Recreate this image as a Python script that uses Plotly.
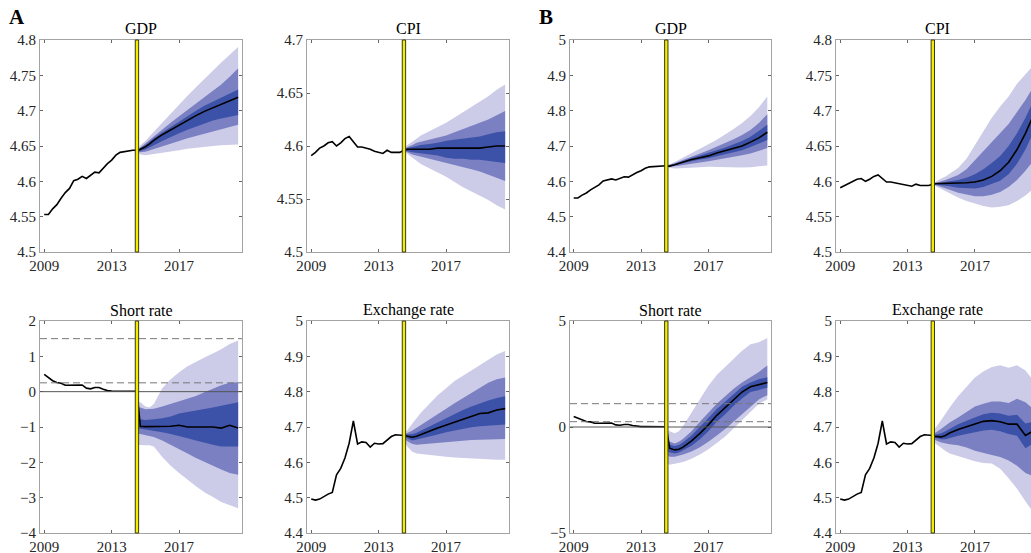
import plotly.graph_objects as go

# ---------------- data ----------------
hist_t = [2009.0, 2009.25, 2009.5, 2009.75, 2010.0, 2010.25, 2010.5, 2010.75, 2011.0, 2011.25,
          2011.5, 2011.75, 2012.0, 2012.25, 2012.5, 2012.75, 2013.0, 2013.25, 2013.5, 2013.75,
          2014.0, 2014.25, 2014.5]
fc_t = [2014.5, 2014.7, 2015.0, 2015.25, 2015.5, 2016.0, 2016.5, 2017.0, 2017.5, 2018.0,
        2018.5, 2019.0, 2019.5, 2020.0, 2020.5]

gdp_hist = [4.553, 4.553, 4.561, 4.567, 4.576, 4.584, 4.590, 4.601, 4.603, 4.607, 4.604, 4.608,
            4.613, 4.612, 4.619, 4.625, 4.630, 4.637, 4.641, 4.642, 4.644, 4.644, 4.644]
cpi_hist = [4.591, 4.594, 4.598, 4.600, 4.603, 4.604, 4.600, 4.603, 4.607, 4.609, 4.604, 4.599,
            4.599, 4.598, 4.597, 4.595, 4.594, 4.593, 4.596, 4.594, 4.594, 4.594, 4.596]
rate_hist = [0.49, 0.41, 0.31, 0.26, 0.24, 0.18, 0.18, 0.19, 0.19, 0.19, 0.10, 0.08, 0.12, 0.12,
             0.07, 0.03, 0.02, 0.02, 0.02, 0.02, 0.02, 0.01, 0.01]
fx_hist = [4.496, 4.493, 4.496, 4.504, 4.510, 4.515, 4.565, 4.583, 4.612, 4.654, 4.717, 4.652,
           4.658, 4.656, 4.643, 4.654, 4.652, 4.653, 4.662, 4.673, 4.678, 4.678, 4.676]

# Panel A forecasts (median, inner/middle/outer bands)
a_gdp_med = [4.643, 4.645, 4.649, 4.653, 4.658, 4.666, 4.673, 4.680, 4.687, 4.693, 4.699, 4.704, 4.709, 4.714, 4.719]
a_gdp_lo1 = [4.642, 4.643, 4.645, 4.648, 4.651, 4.657, 4.663, 4.668, 4.673, 4.678, 4.682, 4.686, 4.689, 4.692, 4.694]
a_gdp_hi1 = [4.643, 4.647, 4.651, 4.656, 4.661, 4.669, 4.677, 4.685, 4.693, 4.700, 4.707, 4.713, 4.719, 4.725, 4.730]
a_gdp_lo2 = [4.642, 4.641, 4.642, 4.643, 4.645, 4.649, 4.653, 4.657, 4.661, 4.665, 4.668, 4.671, 4.674, 4.677, 4.680]
a_gdp_hi2 = [4.644, 4.648, 4.653, 4.658, 4.663, 4.673, 4.683, 4.692, 4.701, 4.710, 4.719, 4.728, 4.737, 4.748, 4.760]
a_gdp_lo3 = [4.641, 4.638, 4.637, 4.637, 4.638, 4.640, 4.642, 4.644, 4.646, 4.648, 4.649, 4.650, 4.651, 4.652, 4.652]
a_gdp_hi3 = [4.644, 4.651, 4.657, 4.664, 4.670, 4.683, 4.696, 4.709, 4.721, 4.733, 4.745, 4.757, 4.768, 4.779, 4.790]

a_cpi_med = [4.596, 4.597, 4.597, 4.597, 4.597, 4.597, 4.598, 4.598, 4.598, 4.598, 4.598, 4.598, 4.599, 4.600, 4.600]
a_cpi_lo1 = [4.596, 4.595, 4.594, 4.593, 4.593, 4.592, 4.591, 4.589, 4.588, 4.588, 4.587, 4.587, 4.586, 4.585, 4.584]
a_cpi_hi1 = [4.596, 4.598, 4.599, 4.600, 4.601, 4.602, 4.603, 4.605, 4.606, 4.607, 4.608, 4.609, 4.611, 4.613, 4.614]
a_cpi_lo2 = [4.596, 4.594, 4.592, 4.591, 4.590, 4.588, 4.586, 4.584, 4.582, 4.580, 4.578, 4.576, 4.573, 4.570, 4.567]
a_cpi_hi2 = [4.596, 4.599, 4.601, 4.603, 4.604, 4.606, 4.608, 4.610, 4.613, 4.616, 4.619, 4.622, 4.625, 4.629, 4.633]
a_cpi_lo3 = [4.595, 4.592, 4.589, 4.586, 4.583, 4.579, 4.575, 4.571, 4.566, 4.561, 4.557, 4.553, 4.549, 4.544, 4.540]
a_cpi_hi3 = [4.597, 4.601, 4.604, 4.607, 4.610, 4.614, 4.618, 4.622, 4.627, 4.632, 4.637, 4.642, 4.647, 4.653, 4.658]

a_rate_med = [0.01, -0.98, -0.99, -0.99, -0.99, -0.98, -0.98, -0.95, -1.0, -1.0, -0.99, -1.0, -1.03, -0.95, -1.03]
a_rate_lo1 = [-1.05, -1.05, -1.07, -1.08, -1.1, -1.15, -1.2, -1.25, -1.32, -1.38, -1.45, -1.5, -1.55, -1.55, -1.55]
a_rate_hi1 = [-0.75, -0.78, -0.8, -0.8, -0.78, -0.75, -0.7, -0.62, -0.58, -0.55, -0.5, -0.45, -0.4, -0.35, -0.3]
a_rate_lo2 = [-1.2, -1.2, -1.23, -1.25, -1.28, -1.38, -1.5, -1.62, -1.75, -1.88, -2.0, -2.1, -2.2, -2.3, -2.35]
a_rate_hi2 = [-0.45, -0.45, -0.5, -0.5, -0.48, -0.42, -0.35, -0.28, -0.2, -0.12, -0.02, 0.08, 0.18, 0.25, 0.27]
a_rate_lo3 = [-1.5, -1.5, -1.52, -1.52, -1.55, -1.85, -2.1, -2.3, -2.5, -2.68, -2.85, -2.98, -3.12, -3.22, -3.3]
a_rate_hi3 = [-0.28, -0.3, -0.42, -0.45, -0.35, 0.1, 0.35, 0.55, 0.72, 0.85, 0.97, 1.08, 1.2, 1.35, 1.45]
a_rate_bounds = [1.5, 0.25]

a_fx_med = [4.676, 4.674, 4.671, 4.674, 4.678, 4.688, 4.697, 4.705, 4.713, 4.722, 4.730, 4.738, 4.740, 4.748, 4.752]
a_fx_lo1 = [4.672, 4.668, 4.662, 4.664, 4.667, 4.673, 4.679, 4.685, 4.690, 4.695, 4.699, 4.702, 4.704, 4.706, 4.707]
a_fx_hi1 = [4.678, 4.679, 4.680, 4.684, 4.690, 4.702, 4.714, 4.726, 4.737, 4.748, 4.758, 4.767, 4.775, 4.782, 4.787]
a_fx_lo2 = [4.668, 4.660, 4.652, 4.650, 4.651, 4.652, 4.655, 4.657, 4.659, 4.661, 4.663, 4.664, 4.665, 4.666, 4.666]
a_fx_hi2 = [4.680, 4.683, 4.690, 4.698, 4.705, 4.720, 4.737, 4.752, 4.767, 4.782, 4.797, 4.810, 4.825, 4.835, 4.840]
a_fx_lo3 = [4.660, 4.645, 4.630, 4.625, 4.622, 4.620, 4.618, 4.616, 4.614, 4.612, 4.610, 4.610, 4.608, 4.607, 4.607]
a_fx_hi3 = [4.685, 4.690, 4.710, 4.725, 4.740, 4.765, 4.790, 4.810, 4.830, 4.845, 4.860, 4.875, 4.890, 4.905, 4.915]

# Panel B forecasts
b_gdp_med = [4.643, 4.643, 4.647, 4.651, 4.655, 4.662, 4.667, 4.672, 4.680, 4.687, 4.693, 4.700, 4.711, 4.723, 4.739]
b_gdp_lo1 = [4.642, 4.642, 4.645, 4.648, 4.651, 4.657, 4.662, 4.665, 4.671, 4.677, 4.682, 4.688, 4.697, 4.706, 4.717]
b_gdp_hi1 = [4.643, 4.645, 4.649, 4.653, 4.658, 4.666, 4.673, 4.680, 4.688, 4.696, 4.705, 4.714, 4.726, 4.742, 4.760]
b_gdp_lo2 = [4.642, 4.641, 4.642, 4.644, 4.646, 4.650, 4.654, 4.657, 4.661, 4.665, 4.669, 4.674, 4.679, 4.686, 4.694]
b_gdp_hi2 = [4.644, 4.646, 4.651, 4.656, 4.661, 4.670, 4.679, 4.688, 4.698, 4.708, 4.719, 4.731, 4.745, 4.765, 4.790]
b_gdp_lo3 = [4.641, 4.638, 4.636, 4.636, 4.637, 4.639, 4.640, 4.641, 4.641, 4.641, 4.640, 4.639, 4.640, 4.642, 4.645]
b_gdp_hi3 = [4.645, 4.648, 4.655, 4.661, 4.667, 4.679, 4.692, 4.705, 4.718, 4.732, 4.748, 4.765, 4.785, 4.810, 4.840]

b_cpi_med = [4.596, 4.597, 4.597, 4.597, 4.597, 4.597, 4.598, 4.599, 4.602, 4.607, 4.615, 4.627, 4.645, 4.668, 4.695]
b_cpi_lo1 = [4.596, 4.596, 4.595, 4.594, 4.593, 4.591, 4.590, 4.590, 4.592, 4.596, 4.601, 4.610, 4.625, 4.645, 4.670]
b_cpi_hi1 = [4.596, 4.597, 4.598, 4.599, 4.600, 4.602, 4.605, 4.610, 4.617, 4.626, 4.636, 4.650, 4.668, 4.690, 4.715]
b_cpi_lo2 = [4.596, 4.595, 4.592, 4.590, 4.588, 4.584, 4.581, 4.579, 4.579, 4.581, 4.585, 4.592, 4.602, 4.615, 4.630]
b_cpi_hi2 = [4.596, 4.598, 4.600, 4.602, 4.604, 4.609, 4.617, 4.630, 4.643, 4.656, 4.668, 4.681, 4.698, 4.715, 4.735]
b_cpi_lo3 = [4.595, 4.593, 4.589, 4.586, 4.583, 4.577, 4.572, 4.568, 4.565, 4.563, 4.564, 4.566, 4.572, 4.580, 4.590]
b_cpi_hi3 = [4.597, 4.600, 4.604, 4.607, 4.611, 4.619, 4.632, 4.652, 4.672, 4.690, 4.706, 4.720, 4.738, 4.752, 4.765]

b_rate_med = [0.0, -1.0, -1.08, -1.05, -0.95, -0.65, -0.3, 0.1, 0.55, 0.92, 1.3, 1.65, 1.9, 2.0, 2.1]
b_rate_lo1 = [-1.15, -1.2, -1.25, -1.2, -1.12, -0.88, -0.58, -0.2, 0.25, 0.6, 1.0, 1.35, 1.65, 1.75, 1.85]
b_rate_hi1 = [-0.8, -0.85, -0.9, -0.85, -0.72, -0.4, 0.0, 0.42, 0.85, 1.2, 1.55, 1.9, 2.1, 2.25, 2.35]
b_rate_lo2 = [-1.3, -1.4, -1.4, -1.35, -1.3, -1.15, -0.95, -0.7, -0.4, -0.1, 0.25, 0.6, 0.95, 1.3, 1.5]
b_rate_hi2 = [-0.6, -0.7, -0.78, -0.7, -0.55, -0.2, 0.25, 0.7, 1.1, 1.45, 1.8, 2.1, 2.35, 2.6, 2.9]
b_rate_lo3 = [-1.7, -1.78, -1.75, -1.7, -1.65, -1.5, -1.3, -1.05, -0.75, -0.45, -0.1, 0.3, 0.7, 1.1, 1.3]
b_rate_hi3 = [-0.1, -0.2, -0.3, -0.2, 0.05, 0.7, 1.35, 1.95, 2.45, 2.85, 3.25, 3.6, 3.9, 4.0, 4.2]
b_rate_bounds = [1.1, 0.25]

b_fx_med = [4.674, 4.673, 4.672, 4.676, 4.683, 4.693, 4.701, 4.710, 4.716, 4.718, 4.715, 4.708, 4.708, 4.676, 4.690]
b_fx_lo1 = [4.671, 4.668, 4.665, 4.665, 4.667, 4.675, 4.680, 4.686, 4.690, 4.692, 4.688, 4.680, 4.675, 4.640, 4.655]
b_fx_hi1 = [4.677, 4.679, 4.682, 4.688, 4.695, 4.708, 4.718, 4.728, 4.736, 4.740, 4.738, 4.732, 4.735, 4.710, 4.715]
b_fx_lo2 = [4.668, 4.662, 4.656, 4.653, 4.651, 4.648, 4.642, 4.633, 4.626, 4.621, 4.615, 4.605, 4.590, 4.570, 4.560]
b_fx_hi2 = [4.680, 4.685, 4.695, 4.705, 4.713, 4.727, 4.742, 4.758, 4.766, 4.772, 4.772, 4.768, 4.780, 4.770, 4.750]
b_fx_lo3 = [4.660, 4.652, 4.640, 4.632, 4.625, 4.617, 4.610, 4.603, 4.598, 4.597, 4.582, 4.555, 4.525, 4.490, 4.455]
b_fx_hi3 = [4.690, 4.700, 4.720, 4.738, 4.755, 4.787, 4.815, 4.840, 4.857, 4.870, 4.875, 4.868, 4.875, 4.860, 4.830]

titles = ["GDP", "CPI", "GDP", "CPI", "Short rate", "Exchange rate", "Short rate", "Exchange rate"]
year_ticks = [2009, 2013, 2017]
forecast_origin = 2014.5

# ---------------- styling / layout ----------------
W, H = 1031, 553
FONT = "Liberation Serif"
C_LIGHT = "rgb(204,204,232)"
C_MED = "rgb(122,128,194)"
C_DARK = "rgb(60,82,168)"
AXC = "#a3a3a3"
TXT = "#262626"

col_px = [(40, 242), (307, 509), (570, 771), (836, 1031)]
row_px = [(40, 252), (321, 533)]
x_ranges = [[2008.75, 2020.73], [2008.75, 2020.73], [2008.78, 2020.72], [2008.75, 2020.33]]

panels = [
    (0, 0, gdp_hist, a_gdp_med, a_gdp_lo1, a_gdp_hi1, a_gdp_lo2, a_gdp_hi2, a_gdp_lo3, a_gdp_hi3,
     [4.5, 4.8], [4.5, 4.55, 4.6, 4.65, 4.7, 4.75, 4.8], ["4.5", "4.55", "4.6", "4.65", "4.7", "4.75", "4.8"], None),
    (0, 1, cpi_hist, a_cpi_med, a_cpi_lo1, a_cpi_hi1, a_cpi_lo2, a_cpi_hi2, a_cpi_lo3, a_cpi_hi3,
     [4.5, 4.7], [4.5, 4.55, 4.6, 4.65, 4.7], ["4.5", "4.55", "4.6", "4.65", "4.7"], None),
    (0, 2, gdp_hist, b_gdp_med, b_gdp_lo1, b_gdp_hi1, b_gdp_lo2, b_gdp_hi2, b_gdp_lo3, b_gdp_hi3,
     [4.4, 5.0], [4.4, 4.5, 4.6, 4.7, 4.8, 4.9, 5.0], ["4.4", "4.5", "4.6", "4.7", "4.8", "4.9", "5"], None),
    (0, 3, cpi_hist, b_cpi_med, b_cpi_lo1, b_cpi_hi1, b_cpi_lo2, b_cpi_hi2, b_cpi_lo3, b_cpi_hi3,
     [4.5, 4.8], [4.5, 4.55, 4.6, 4.65, 4.7, 4.75, 4.8], ["4.5", "4.55", "4.6", "4.65", "4.7", "4.75", "4.8"], None),
    (1, 0, rate_hist, a_rate_med, a_rate_lo1, a_rate_hi1, a_rate_lo2, a_rate_hi2, a_rate_lo3, a_rate_hi3,
     [-4, 2], [-4, -3, -2, -1, 0, 1, 2], ["\u22124", "\u22123", "\u22122", "\u22121", "0", "1", "2"], a_rate_bounds),
    (1, 1, fx_hist, a_fx_med, a_fx_lo1, a_fx_hi1, a_fx_lo2, a_fx_hi2, a_fx_lo3, a_fx_hi3,
     [4.4, 5.0], [4.4, 4.5, 4.6, 4.7, 4.8, 4.9, 5.0], ["4.4", "4.5", "4.6", "4.7", "4.8", "4.9", "5"], None),
    (1, 2, rate_hist, b_rate_med, b_rate_lo1, b_rate_hi1, b_rate_lo2, b_rate_hi2, b_rate_lo3, b_rate_hi3,
     [-5, 5], [-5, 0, 5], ["\u22125", "0", "5"], b_rate_bounds),
    (1, 3, fx_hist, b_fx_med, b_fx_lo1, b_fx_hi1, b_fx_lo2, b_fx_hi2, b_fx_lo3, b_fx_hi3,
     [4.4, 5.0], [4.4, 4.5, 4.6, 4.7, 4.8, 4.9, 5.0], ["4.4", "4.5", "4.6", "4.7", "4.8", "4.9", "5"], None),
]

fig = go.Figure()
layout = dict(width=W, height=H, margin=dict(l=0, r=0, t=0, b=0, pad=0), autosize=False,
              paper_bgcolor="white", plot_bgcolor="white", showlegend=False,
              font=dict(family=FONT, color=TXT))
shapes = []
annotations = []

for i, p in enumerate(panels):
    (r, c, hist, med, lo1, hi1, lo2, hi2, lo3, hi3, yr, yt, ytt, bounds) = p
    n = i + 1
    xa, ya = ("x" if n == 1 else f"x{n}"), ("y" if n == 1 else f"y{n}")
    xk, yk = ("xaxis" if n == 1 else f"xaxis{n}"), ("yaxis" if n == 1 else f"yaxis{n}")
    x0p, x1p = col_px[c]
    y0p, y1p = row_px[r]
    last_col = (c == 3)
    layout[xk] = dict(domain=[x0p / W, x1p / W], anchor=ya, range=x_ranges[c], automargin=False,
                      tickvals=year_ticks, ticktext=[str(v) for v in year_ticks],
                      ticks="inside", ticklen=3, tickcolor="#666", showline=True,
                      linecolor=AXC, linewidth=1, mirror="allticks", showgrid=False,
                      zeroline=False, tickfont=dict(family=FONT, size=15, color=TXT))
    layout[yk] = dict(domain=[1 - y1p / H, 1 - y0p / H], anchor=xa, range=yr, automargin=False,
                      tickvals=yt, ticktext=ytt, ticks="inside", ticklen=3, tickcolor="#666",
                      showline=True, linecolor=AXC, linewidth=1,
                      mirror=(False if last_col else "allticks"), showgrid=False,
                      zeroline=False, tickfont=dict(family=FONT, size=15, color=TXT))

    for lo, hi, col in [(lo3, hi3, C_LIGHT), (lo2, hi2, C_MED), (lo1, hi1, C_DARK)]:
        fig.add_trace(go.Scatter(x=fc_t + fc_t[::-1], y=hi + lo[::-1], fill="toself",
                                 fillcolor=col, mode="lines", line=dict(width=0, color=col),
                                 hoverinfo="skip", xaxis=xa, yaxis=ya))
    fig.add_trace(go.Scatter(x=fc_t, y=med, mode="lines", line=dict(color="black", width=1.6),
                             xaxis=xa, yaxis=ya))
    fig.add_trace(go.Scatter(x=hist_t, y=hist, mode="lines", line=dict(color="black", width=1.6),
                             xaxis=xa, yaxis=ya))

    if bounds is not None:
        shapes.append(dict(type="line", xref=f"{xa} domain", yref=ya, x0=0, x1=1, y0=0, y1=0,
                           line=dict(color="#555", width=1), layer="above"))
        for b in bounds:
            shapes.append(dict(type="line", xref=f"{xa} domain", yref=ya, x0=0, x1=1, y0=b, y1=b,
                               line=dict(color="#777", width=1, dash="7px,4px"), layer="above"))

    shapes.append(dict(type="rect", xref=xa, yref=f"{ya} domain",
                       x0=forecast_origin - 0.1, x1=forecast_origin + 0.1, y0=0, y1=1,
                       fillcolor="#f2ec00", line=dict(color="#3a3a1a", width=1), layer="above"))

    annotations.append(dict(text=titles[i], xref="paper", yref="paper",
                            x=(x0p + x1p) / 2 / W if not last_col else (x0p + 1038) / 2 / W,
                            y=1 - (y0p - 11) / H, xanchor="center", yanchor="middle",
                            showarrow=False, font=dict(family=FONT, size=16, color="black")))

for letter, xpx in [("A", 17), ("B", 546)]:
    annotations.append(dict(text=f"<b>{letter}</b>", xref="paper", yref="paper", x=xpx / W,
                            y=1 - 17 / H, xanchor="center", yanchor="middle", showarrow=False,
                            font=dict(family=FONT, size=21, color="black")))

layout["shapes"] = shapes
layout["annotations"] = annotations
fig.update_layout(**layout)
fig.write_html("out.html")
